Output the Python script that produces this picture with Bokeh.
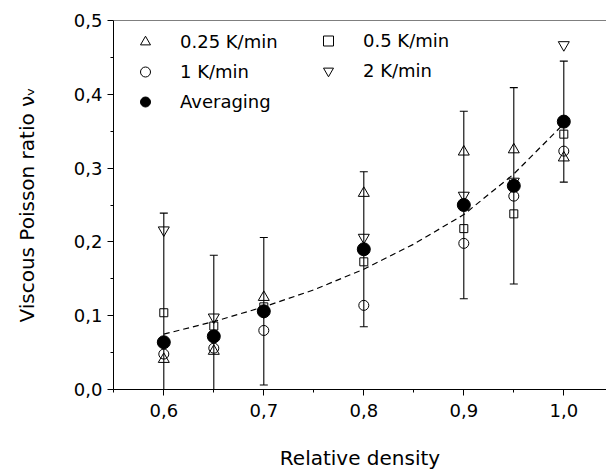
from bokeh.plotting import figure
from bokeh.models import (ColumnDataSource, Whisker, TeeHead, FixedTicker, Legend,
                          LegendItem, Span, Range1d)
from bokeh.embed import file_html
from bokeh.resources import INLINE

# ---- data ----
density = [0.6, 0.65, 0.7, 0.8, 0.9, 0.95, 1.0]
rate_025 = [0.041, 0.052, 0.125, 0.266, 0.322, 0.325, 0.314]
rate_05 = [0.104, 0.086, 0.112, 0.173, 0.218, 0.238, 0.346]
rate_1 = [0.048, 0.056, 0.080, 0.114, 0.198, 0.262, 0.323]
rate_2 = [0.216, 0.098, 0.105, 0.206, 0.263, 0.282, 0.467]
averaging = [0.064, 0.072, 0.106, 0.190, 0.250, 0.276, 0.363]
avg_error = [0.175, 0.110, 0.100, 0.105, 0.127, 0.133, 0.082]

fit_density = [0.6, 0.65, 0.7, 0.75, 0.8, 0.85, 0.9, 0.95, 1.0]
fit_value = [0.075, 0.092, 0.112, 0.135, 0.163, 0.197, 0.237, 0.292, 0.360]

x_ticks = [0.6, 0.7, 0.8, 0.9, 1.0]
x_tick_labels = ["0,6", "0,7", "0,8", "0,9", "1,0"]
x_minor = [0.55, 0.65, 0.75, 0.85, 0.95]
y_ticks = [0.0, 0.1, 0.2, 0.3, 0.4, 0.5]
y_tick_labels = ["0,0", "0,1", "0,2", "0,3", "0,4", "0,5"]
y_minor = [0.05, 0.15, 0.25, 0.35, 0.45]

FONT = "DejaVu Sans"

p = figure(width=606, height=472, output_backend="svg", toolbar_location=None,
           x_range=Range1d(0.5497, 1.0427), y_range=Range1d(0.0, 0.5),
           min_border_left=113, min_border_right=0, min_border_top=20,
           min_border_bottom=83)
p.outline_line_color = None
p.xgrid.grid_line_color = None
p.ygrid.grid_line_color = None
p.background_fill_color = "white"
p.border_fill_color = "white"

# top frame line
p.add_layout(Span(location=0.5, dimension="width", line_color="black", line_width=1))

# axes
p.xaxis.ticker = FixedTicker(ticks=x_ticks, minor_ticks=x_minor)
p.xaxis.major_label_overrides = dict(zip(x_ticks, x_tick_labels))
p.yaxis.ticker = FixedTicker(ticks=y_ticks, minor_ticks=y_minor)
p.yaxis.major_label_overrides = dict(zip(y_ticks, y_tick_labels))
p.xaxis.axis_label = "Relative density"
p.yaxis.axis_label = "Viscous Poisson ratio \u03bd\u1d65"
for ax in (p.xaxis, p.yaxis):
    ax.axis_line_color = "black"
    ax.major_tick_line_color = "black"
    ax.minor_tick_line_color = "black"
    ax.major_tick_in = 0
    ax.major_tick_out = 6
    ax.minor_tick_in = 0
    ax.minor_tick_out = 3
    ax.major_label_text_font = FONT
    ax.major_label_text_font_size = "18px"
    ax.major_label_text_color = "black"
    ax.axis_label_text_font = FONT
    ax.axis_label_text_font_size = "20px"
    ax.axis_label_text_font_style = "normal"
    ax.axis_label_text_color = "black"
p.xaxis.major_label_standoff = 8
p.xaxis.axis_label_standoff = 26
p.yaxis.major_label_standoff = 5
p.yaxis.axis_label_standoff = 32

# fit line
p.line(fit_density, fit_value, line_color="black", line_width=1.2, line_dash="6 4")

# error bars on the average
upper = [a + e for a, e in zip(averaging, avg_error)]
lower = [max(a - e, 0.0) for a, e in zip(averaging, avg_error)]
err_src = ColumnDataSource(dict(x=density, upper=upper, lower=lower))
p.add_layout(Whisker(base="x", upper="upper", lower="lower", source=err_src,
                     dimension="height", line_color="black", line_width=1.1,
                     upper_head=TeeHead(size=8, line_color="black", line_width=1.1),
                     lower_head=TeeHead(size=8, line_color="black", line_width=1.1)))

r025 = p.scatter(density, rate_025, marker="triangle", size=11,
                 line_color="black", fill_color=None, line_width=1)
r05 = p.scatter(density, rate_05, marker="square", size=8,
                line_color="black", fill_color=None, line_width=1)
r1 = p.scatter(density, rate_1, marker="circle", size=10,
               line_color="black", fill_color=None, line_width=1)
r2 = p.scatter(density, rate_2, marker="inverted_triangle", size=11,
               line_color="black", fill_color=None, line_width=1)
ravg = p.scatter(density, averaging, marker="circle", size=13,
                 line_color="black", fill_color="black")

common = dict(padding=0, glyph_width=46, glyph_height=25,
              label_standoff=12, spacing=5, label_text_font=FONT,
              label_text_font_size="18px", label_text_color="black",
              border_line_color=None, background_fill_alpha=0)
leg1 = Legend(items=[LegendItem(label="0.25 K/min", renderers=[r025]),
                     LegendItem(label="1 K/min", renderers=[r1]),
                     LegendItem(label="Averaging", renderers=[ravg])],
              location="top_left", margin=9, **common)
leg2 = Legend(items=[LegendItem(label="0.5 K/min", renderers=[r05]),
                     LegendItem(label="2 K/min", renderers=[r2])],
              location=(192, 306), margin=0, **common)
p.add_layout(leg1, "center")
p.add_layout(leg2, "center")

open("out.html", "w").write(file_html(p, INLINE))
